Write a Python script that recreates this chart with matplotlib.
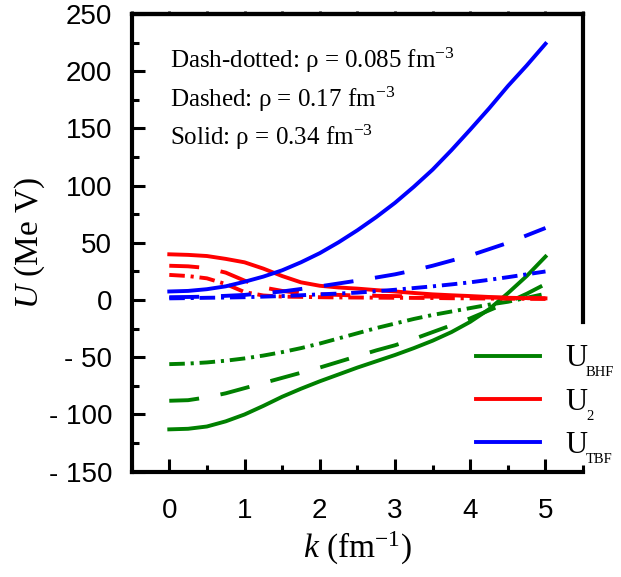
import matplotlib
matplotlib.use("Agg")
import matplotlib.pyplot as plt
from matplotlib.ticker import MultipleLocator, FuncFormatter

plt.rcParams['mathtext.fontset'] = 'custom'
plt.rcParams['mathtext.rm'] = 'Liberation Serif'
plt.rcParams['mathtext.it'] = 'Liberation Serif:italic'

# momentum k (fm^-1)
k = [0, 0.25, 0.5, 0.75, 1, 1.25, 1.5, 1.75, 2, 2.25, 2.5,
     2.75, 3, 3.25, 3.5, 3.75, 4, 4.25, 4.5, 4.75, 5]

# U_BHF (green), rho = 0.34, 0.17, 0.085 fm^-3
bhf_034 = [-113, -112.5, -110.5, -106, -100, -92.5, -84.5, -77.5, -71, -65, -59,
           -53.5, -48, -42, -35.5, -28, -19, -8, 6, 21, 38]
bhf_017 = [-88, -87.5, -85, -81.5, -77, -72.5, -68, -63.5, -59, -54, -49,
           -44, -39.5, -34, -28, -22, -16, -9, -2, 5.5, 14]
bhf_0085 = [-56, -55.5, -54.5, -53, -51, -48.5, -45.5, -42, -38, -33.5, -29,
            -24.5, -20.5, -16.5, -13, -10, -7, -4, -1.5, 2, 5.5]

# U_2 (red)
u2_034 = [40, 39.5, 38.5, 36, 33, 27.5, 21, 15.5, 12.5, 11, 10,
          8.7, 7.5, 6.2, 5, 4.2, 3.5, 2.7, 2, 1.7, 1.5]
u2_017 = [30, 29.5, 28, 24, 17, 11, 8, 6, 5, 4.5, 4,
          3.7, 3.5, 3.2, 3, 2.7, 2.5, 2.2, 2, 1.7, 1.5]
u2_0085 = [22, 21, 19, 14, 7, 4, 3, 2.8, 2.5, 2.3, 2.2,
           2.1, 2, 1.9, 1.8, 1.6, 1.5, 1.3, 1.2, 1.1, 1]

# U_TBF (blue)
tbf_034 = [7.5, 8, 9.5, 12, 16, 20.5, 26, 33, 41, 50.5, 61,
           72.5, 85, 99, 114, 131, 149, 167.5, 187, 205, 224]
tbf_017 = [2.5, 2.7, 3, 3.7, 4.5, 6, 7.5, 9.7, 12, 14.5, 17,
           19.7, 22.5, 26, 30, 34.5, 39, 44.5, 50, 56.5, 63]
tbf_0085 = [1.5, 1.7, 2, 2.2, 2.5, 3, 3.5, 4.2, 5, 5.7, 6.5,
            7.7, 9, 10.5, 12, 13.7, 15.5, 17.7, 20, 22.5, 25]

legend_subs = ['BHF', '2', 'TBF']

green = '#008000'
red = '#ff0000'
blue = '#0000ff'
lw = 2.8
dashed = (0, (7.7, 5.6))
dashdot = (0, (4, 1.5, 0.8, 1.5))

fig = plt.figure(figsize=(6.21, 5.77), dpi=100)
ax = fig.add_axes([0.212, 0.1825, 0.727, 0.7932])

l1, = ax.plot(k, bhf_034, color=green, lw=lw)
ax.plot(k, bhf_017, color=green, lw=lw, linestyle=dashed)
ax.plot(k, bhf_0085, color=green, lw=lw, linestyle=dashdot)
l2, = ax.plot(k, u2_034, color=red, lw=lw)
ax.plot(k, u2_017, color=red, lw=lw, linestyle=dashed)
ax.plot(k, u2_0085, color=red, lw=lw, linestyle=dashdot)
l3, = ax.plot(k, tbf_034, color=blue, lw=lw)
ax.plot(k, tbf_017, color=blue, lw=lw, linestyle=dashed)
ax.plot(k, tbf_0085, color=blue, lw=lw, linestyle=dashdot)

ax.set_xlim(-0.5, 5.5)
ax.set_ylim(-150, 250)
ax.xaxis.set_major_locator(MultipleLocator(1))
ax.xaxis.set_minor_locator(MultipleLocator(0.5))
ax.yaxis.set_major_locator(MultipleLocator(50))
ax.yaxis.set_minor_locator(MultipleLocator(25))
ax.yaxis.set_major_formatter(FuncFormatter(
    lambda v, p: ('- %d' % -v) if v < 0 else '%d' % v))

for s in ax.spines.values():
    s.set_linewidth(3)
ax.spines['right'].set_bounds(-19, 250)

ax.tick_params(which='both', direction='in', width=2.2,
               bottom=True, left=True, top=False, right=False)
ax.tick_params(which='major', length=9.5)
ax.tick_params(which='minor', length=5)
ax.tick_params(axis='y', pad=14)
ax.tick_params(axis='x', pad=19)
for lab in ax.get_xticklabels() + ax.get_yticklabels():
    lab.set_fontfamily('Liberation Sans')
    lab.set_fontsize(20)

# tiny outer ticks on the top frame
top = ax.secondary_xaxis('top')
top.xaxis.set_major_locator(MultipleLocator(0.5))
top.tick_params(direction='out', length=2, width=2, labeltop=False)
top.spines['top'].set_linewidth(3)

ax.set_xlabel(r'$k$ (fm$^{-1}$)', family='Liberation Serif', fontsize=24)
ax.set_ylabel(r'$U$ (Me V)', family='Liberation Serif', fontsize=24, labelpad=1)

ax.text(0.01, 202.6, 'Dash-dotted: ρ = 0.085 fm$^{-3}$',
        family='Liberation Serif', fontsize=18)
ax.text(0.01, 169, 'Dashed: ρ = 0.17 fm$^{-3}$',
        family='Liberation Serif', fontsize=18)
ax.text(0.01, 135.6, 'Solid: ρ = 0.34 fm$^{-3}$',
        family='Liberation Serif', fontsize=18)

leg = ax.legend([l1, l2, l3], ['U', 'U', 'U'], loc='upper left',
                bbox_to_anchor=(0.767, 0.403),
                bbox_transform=fig.transFigure, frameon=False,
                prop={'family': 'Liberation Serif', 'size': 22},
                handlelength=2.1, handletextpad=0.8, labelspacing=0.47,
                borderpad=0, borderaxespad=0)

# small subscripts after each legend "U"
fig.canvas.draw()
r = fig.canvas.get_renderer()
for t, sub in zip(leg.get_texts(), legend_subs):
    bb = t.get_window_extent(r)
    fig.text((bb.x1 - 1) / fig.bbox.width, (bb.y0 - 3) / fig.bbox.height, sub,
             family='Liberation Serif', fontsize=10.5, va='baseline')

fig.savefig('out.png', dpi=100)
